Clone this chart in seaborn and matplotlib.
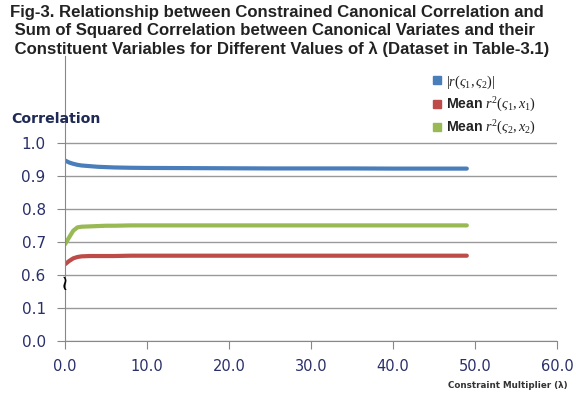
import numpy as np
import pandas as pd
import matplotlib
matplotlib.use("Agg")
import matplotlib.pyplot as plt
import seaborn as sns
from matplotlib.lines import Line2D

# values
lam = [0, 0.5, 1, 1.5, 2, 3, 4, 5, 6, 8, 10, 15, 20, 25, 30, 35, 40, 45, 49]
r_abs = [0.948, 0.942, 0.938, 0.935, 0.933, 0.931, 0.929, 0.928, 0.927, 0.926,
         0.9255, 0.925, 0.9245, 0.924, 0.924, 0.924, 0.9235, 0.9235, 0.9235]
mean_r1 = [0.633, 0.643, 0.651, 0.655, 0.657, 0.658, 0.658, 0.658, 0.658, 0.659,
           0.659, 0.659, 0.659, 0.659, 0.659, 0.659, 0.659, 0.659, 0.659]
mean_r2 = [0.694, 0.715, 0.735, 0.745, 0.747, 0.748, 0.749, 0.750, 0.750, 0.751,
           0.751, 0.751, 0.751, 0.751, 0.751, 0.751, 0.751, 0.751, 0.751]
series = [r"$|r(\varsigma_1,\varsigma_2)|$",
          r"$\mathbf{Mean}\ r^2(\varsigma_1,x_1)$",
          r"$\mathbf{Mean}\ r^2(\varsigma_2,x_2)$"]
colors = ["#4a7ebb", "#be4b48", "#98b954"]
y_ticks = [0.0, 0.1, 0.6, 0.7, 0.8, 0.9, 1.0]
x_ticks = [0, 10, 20, 30, 40, 50, 60]

df = pd.concat([
    pd.DataFrame({"lam": lam, "val": v, "series": s})
    for v, s in zip([r_abs, mean_r1, mean_r2], series)
])


# broken y axis: 0-0.1 and 0.6-1.0 get the same spacing per 0.1
def fwd(y):
    y = np.asarray(y, dtype=float)
    return np.where(y <= 0.1, y * 10,
                    np.where(y >= 0.6, (y - 0.6) * 10 + 2, 1 + (y - 0.1) / 0.5))


def inv(t):
    t = np.asarray(t, dtype=float)
    return np.where(t <= 1, t / 10,
                    np.where(t >= 2, 0.6 + (t - 2) / 10, 0.1 + (t - 1) * 0.5))


sns.set_style("white")
plt.rcParams["font.family"] = ["DejaVu Sans"]
plt.rcParams["mathtext.fontset"] = "custom"
plt.rcParams["mathtext.rm"] = "Liberation Serif"
plt.rcParams["mathtext.it"] = "Liberation Serif:italic"
plt.rcParams["mathtext.bf"] = "Liberation Sans:bold"
navy = "#2a2f6a"

fig = plt.figure(figsize=(5.76, 4.04), dpi=100)
ax = fig.add_axes([0.113, 0.156, 0.854, 0.705])
ax.set_yscale("function", functions=(fwd, inv))

sns.lineplot(data=df, x="lam", y="val", hue="series", palette=colors,
             linewidth=3, legend=False, ax=ax)

ax.set_xlim(0, 60)
ax.set_ylim(0, 1.265)
ax.set_xticks(x_ticks)
ax.set_xticklabels([f"{v:.1f}" for v in x_ticks], color=navy, fontsize=10.5)
ax.set_yticks(y_ticks)
ax.set_yticklabels([f"{v:.1f}" for v in y_ticks], color=navy, fontsize=11)
ax.tick_params(axis="both", direction="out", length=6, color="#888888",
               bottom=True, left=True)
ax.tick_params(axis="x", pad=7)
ax.tick_params(axis="y", pad=8)
for v in y_ticks:
    ax.axhline(v, color="#999999", linewidth=1, zorder=0)
for s in ["top", "right"]:
    ax.spines[s].set_visible(False)
ax.spines["left"].set_color("#888888")
ax.spines["bottom"].set_color("#888888")
ax.set_xlabel("")
ax.set_ylabel("")

# axis break mark
ax.text(0, 0.47, "≀", ha="center", va="center", fontsize=15,
        color="black", clip_on=False)

ax.text(-0.11, 1.075, "Correlation", transform=ax.get_yaxis_transform(),
        fontsize=10.2, fontweight="bold", color="#1f2a55", ha="left",
        va="center")

handles = [Line2D([], [], marker="s", linestyle="", color=c, markersize=5.5)
           for c in colors]
leg = ax.legend(handles, series, loc="upper left", bbox_to_anchor=(0.728, 0.96),
                frameon=False, fontsize=10.2, handletextpad=0.0,
                handlelength=1.2, labelspacing=0.35, borderaxespad=0.0)
for t in leg.get_texts():
    t.set_color("#222222")

fig.text(0.985, 0.04, "Constraint Multiplier (λ)", ha="right", fontsize=6.3,
         fontweight="bold", color="#333333")

fig.text(0.018, 0.988,
         "Fig-3. Relationship between Constrained Canonical Correlation and\n"
         " Sum of Squared Correlation between Canonical Variates and their\n"
         " Constituent Variables for Different Values of λ (Dataset in Table-3.1)",
         ha="left", va="top", fontsize=12.1, fontweight="bold", color="#222222",
         family="Liberation Sans", linespacing=1.25)

fig.savefig("out.png", dpi=100)
